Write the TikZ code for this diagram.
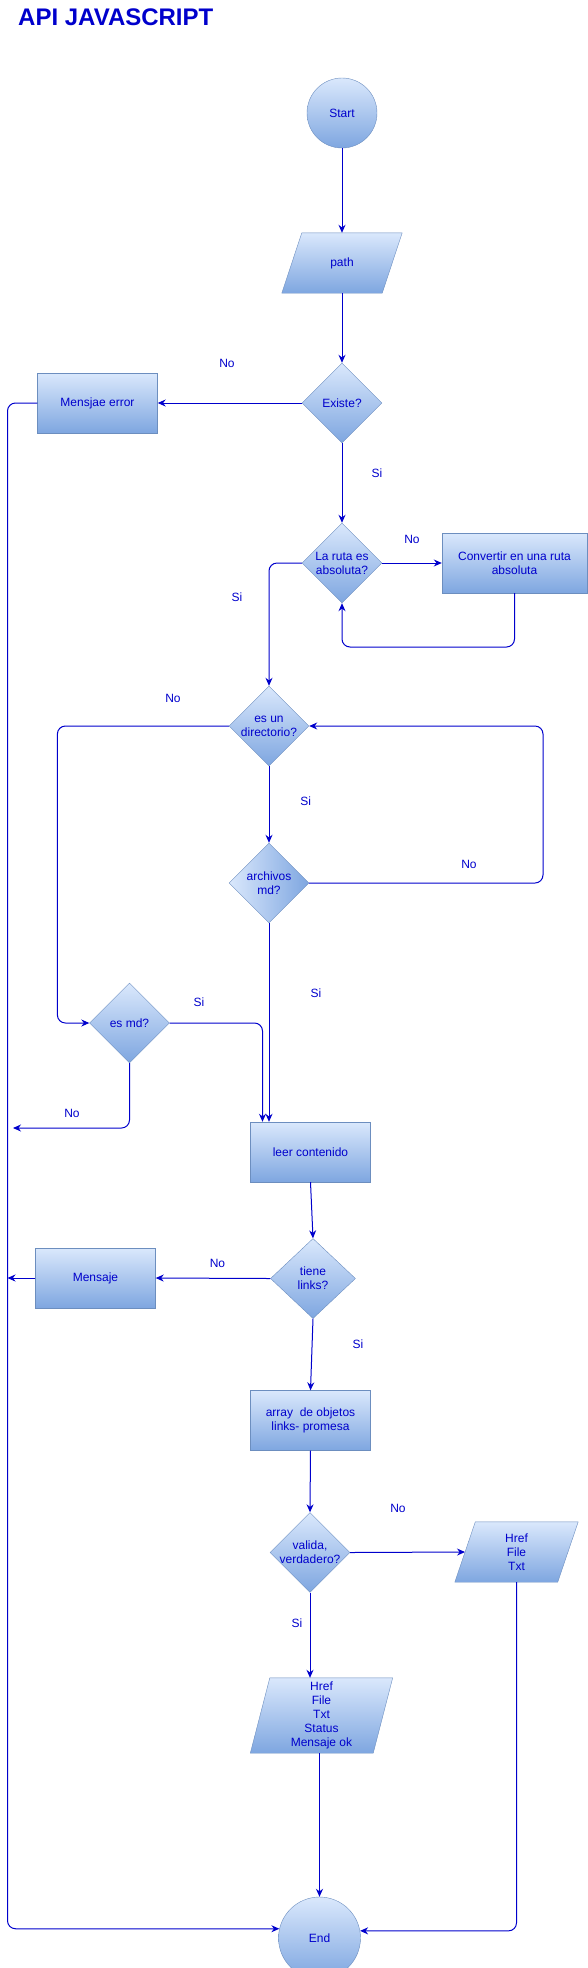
\documentclass[tikz,border=0pt]{standalone}
\usepackage{fontspec}
\setmainfont{Liberation Sans}
\usetikzlibrary{shapes.geometric,arrows.meta,calc}
\definecolor{fillT}{HTML}{DAE8FC}
\definecolor{fillB}{HTML}{7EA6E0}
\definecolor{strk}{HTML}{6C8EBF}
\definecolor{ink}{HTML}{0000CC}
\newcommand\paraShape[2]{%
  \path[draw=strk, top color=fillT, bottom color=fillB]
    ($(#1.south west)+(-#2,0)$) -- ($(#1.north west)+(#2,0)$) --
    ($(#1.north east)+(#2,0)$) -- ($(#1.south east)+(-#2,0)$) -- cycle;}
\begin{document}
\begin{tikzpicture}[x=1pt,y=-1pt,
  every node/.style={font=\fontsize{12}{14}\selectfont, text=ink},
  box/.style={rectangle, draw=strk, top color=fillT, bottom color=fillB,
    minimum width=120pt, minimum height=60pt, inner sep=0pt, align=center},
  term/.style={circle, draw=strk, top color=fillT, bottom color=fillB, inner sep=0pt},
  dia/.style={diamond, draw=strk, top color=fillT, bottom color=fillB,
    minimum width=80pt, minimum height=80pt, inner sep=0pt},
  pbox/.style={rectangle, inner sep=0pt, minimum height=60pt},
  txt/.style={align=center, inner sep=0pt},
  lab/.style={inner sep=0pt},
  conn/.style={draw=ink, line width=1pt, rounded corners=8pt,
    -{Stealth[length=8pt,width=7pt]}}]
\useasboundingbox (0,0) rectangle (588,1968);

\node[font=\bfseries\fontsize{24}{28}\selectfont, anchor=base west, inner sep=0pt] (title) at (18,25) {API JAVASCRIPT};

% lanes
\coordinate (laneL) at (7.5,0);
\coordinate (laneA) at (57.4,0);
\coordinate (laneB) at (262.5,0);
\coordinate (laneR) at (543,0);
\coordinate (laneC) at (0,647);
\coordinate (mdno) at (13,1128);

% nodes
\node[term, minimum size=70pt] (start) at (342,113) {Start};
\node[pbox, minimum width=100pt] (path) at (342,263) {};
\paraShape{path}{10}
\node[txt] (pathT) at (path) {path};

\node[dia] (exist) at (342,403) {};
\node[txt] (existT) at (exist) {Existe?};
\node[box] (err) at (97.5,403) {Mensjae error};

\node[dia] (ruta) at (342,563) {};
\node[txt] (rutaT) at (ruta) {La ruta es\\absoluta?};
\node[box, minimum width=145pt] (conv) at (514.5,563) {Convertir en una ruta\\absoluta};

\node[dia] (dir) at (269,726) {};
\node[txt] (dirT) at (dir) {es un\\directorio?};

\node[dia, left color=fillT, right color=fillB] (arch) at (269,883) {};
\node[txt] (archT) at (arch) {archivos\\md?};

\node[dia] (esmd) at (129.5,1023) {};
\node[txt] (esmdT) at (esmd) {es md?};

\node[box] (leer) at (310.5,1152) {leer contenido};

\node[dia, minimum width=85pt] (tiene) at (313,1278.5) {};
\node[txt] (tieneT) at (tiene) {tiene\\links?};
\node[box] (msg) at (95.5,1278) {Mensaje};

\node[box] (arr) at (310.5,1420.5) {array\ \ de objetos\\links- promesa};

\node[dia] (val) at (310,1552.5) {};
\node[txt] (valT) at (val) {valida,\\verdadero?};

\node[pbox, minimum width=102.5pt] (out1) at (516.5,1552) {};
\paraShape{out1}{10.25}
\node[txt] (out1T) at (out1) {Href\\File\\Txt};

\node[pbox, minimum width=122.5pt, minimum height=75pt] (out2) at (321.5,1715.5) {};
\paraShape{out2}{9.75}
\node[txt] (out2T) at (out2) {Href\\File\\Txt\\Status\\Mensaje ok};

\node[term, minimum size=82pt] (end) at (319.5,1938) {End};

% connectors
\draw[conn] (start.south) -- (path.north);
\draw[conn] (path.south) -- (exist.north);
\draw[conn] (exist.west) -- (err.east);
\draw[conn] (err.west) -| (laneL |- end.167) -- (end.167);
\draw[conn] (exist.south) -- (ruta.north);
\draw[conn] (ruta.east) -- (conv.west);
\draw[conn] (conv.south) |- (ruta.south |- laneC) -- (ruta.south);
\draw[conn] (ruta.west) -| (dir.north);
\draw[conn] (dir.west) -| (laneA |- esmd.west) -- (esmd.west);
\draw[conn] (dir.south) -- (arch.north);
\draw[conn] (arch.east) -| (laneR |- dir.east) -- (dir.east);
\draw[conn] (arch.south) -- (arch.south |- leer.north);
\draw[conn] (esmd.east) -| (laneB |- leer.north);
\draw[conn] (esmd.south) |- (mdno);
\draw[conn] (leer.south) -- (tiene.north);
\draw[conn] (tiene.west) -- (msg.east);
\draw[conn] (msg.west) -- (laneL |- msg.west);
\draw[conn] (tiene.south) -- (arr.north);
\draw[conn] (arr.south) -- (val.north);
\draw[conn] (val.east) -- (out1.west);
\draw[conn] (out1.south) |- (end.10);
\draw[conn] (val.south) -- (val.south |- out2.north);
\draw[conn] (end.north |- out2.south) -- (end.north);

% labels
\node[lab] (l1) at (227,363) {No};
\node[lab] (l2) at (377,473) {Si};
\node[lab] (l3) at (412,539) {No};
\node[lab] (l4) at (237,597) {Si};
\node[lab] (l5) at (173,698) {No};
\node[lab] (l6) at (305.6,801) {Si};
\node[lab] (l7) at (469,864) {No};
\node[lab] (l8) at (316,993) {Si};
\node[lab] (l9) at (199,1002) {Si};
\node[lab] (l10) at (72,1113) {No};
\node[lab] (l11) at (217.5,1263) {No};
\node[lab] (l12) at (358,1344) {Si};
\node[lab] (l13) at (398,1508) {No};
\node[lab] (l14) at (297,1623) {Si};
\end{tikzpicture}
\end{document}
